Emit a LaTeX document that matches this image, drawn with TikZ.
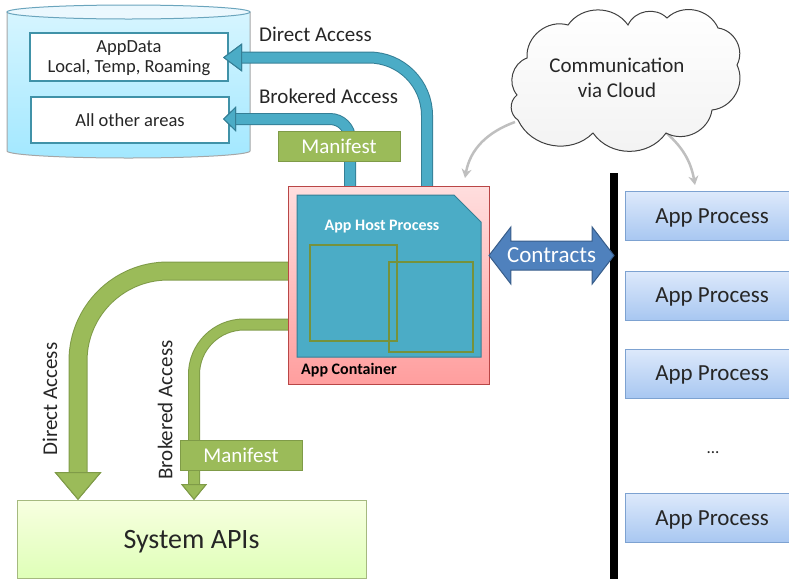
\documentclass[tikz,border=0pt]{standalone}
\usepackage{fontspec}
\setmainfont{Carlito}
\usetikzlibrary{positioning,arrows.meta,shapes.arrows}
\definecolor{tealpipe}{HTML}{4BACC6}
\definecolor{tealline}{HTML}{357F96}
\definecolor{greenpipe}{HTML}{9BBB59}
\definecolor{greenline}{HTML}{7F9B48}
\definecolor{olivebox}{HTML}{76923C}
\definecolor{inktext}{HTML}{262626}
\definecolor{proctop}{HTML}{DDE9FB}
\definecolor{procbottom}{HTML}{A8C7F1}
\definecolor{procline}{HTML}{7DA2D1}
\definecolor{contractfill}{HTML}{4F81BD}
\definecolor{contractline}{HTML}{385D8A}
\definecolor{storetop}{HTML}{D6F5FF}
\definecolor{storebottom}{HTML}{A3E8FF}
\begin{document}
\begin{tikzpicture}[x=1pt,y=-1pt,
    every node/.style={text=inktext,inner sep=0pt,outer sep=0pt,align=center,text depth=0pt},
    areabox/.style={rectangle,draw=tealpipe!85!black,line width=1.6pt,fill=white,minimum width=198pt,font=\fontsize{18.5}{20}\selectfont},
    manifestbox/.style={rectangle,draw=greenline,line width=1pt,fill=greenpipe,minimum width=122pt,minimum height=30pt,text=white,font=\fontsize{21}{24}\selectfont},
    procbox/.style={rectangle,draw=procline,line width=1pt,top color=proctop,bottom color=procbottom,minimum width=174pt,minimum height=49pt,font=\fontsize{23}{25}\selectfont},
    smallbox/.style={rectangle,draw=olivebox,line width=1.5pt,minimum width=#1},
    flowlabel/.style={font=\fontsize{21}{24}\selectfont},
    boldlabel/.style={font=\fontsize{16}{18}\selectfont\bfseries},
    tealflow/.style={line width=10pt,draw=tealpipe,preaction={draw=tealline,line width=12pt}},
    greenflow/.style={line width=#1,draw=greenpipe,preaction={draw=greenline,line width=#1+2pt}},
    cloudlink/.style={draw=gray!50,line width=2.5pt,-{Stealth[length=9pt,width=10pt]}},
    puff/.style={bend left=55,looseness=1.05}
    ]
\useasboundingbox (0,0) rectangle (789,579);

\draw[top color=storetop,bottom color=storebottom,draw=gray!70,line width=1pt]
    (7,12) -- (7,151) arc[start angle=180,end angle=0,x radius=121.5,y radius=7] -- (250,12) -- cycle;
\draw[fill=cyan!8!white,draw=cyan!45!gray,line width=1pt] (128.5,12) ellipse[x radius=121.5,y radius=7];
\node[areabox,minimum height=48pt] (appdata) at (129,57) {AppData\\Local, Temp, Roaming};
\node[areabox,minimum height=46pt] (otherareas) at (130,120) {All other areas};

\coordinate (directtop) at (427,186);
\coordinate (brokeredtop) at (350,186);
\coordinate (directleft) at (289,271);
\coordinate (brokeredleft) at (289,324.5);
\coordinate (directtip) at (223,57.5);
\coordinate (brokeredtip) at (223,119);
\coordinate (directapi) at (78,500);
\coordinate (brokeredapi) at (194,500);
\coordinate (cloudleft) at (515,122);
\coordinate (cloudright) at (663,130);
\coordinate (containerpoint) at (465,178);
\coordinate (processpoint) at (695,185);
\coordinate (bartop) at (614,173);
\coordinate (barbottom) at (614,579);

\draw[tealflow,rounded corners=58pt,-{Triangle[length=19pt,width=28pt,fill=tealpipe,color=tealline,line width=1pt]}]
    (directtop) |- (directtip);
\draw[tealflow,rounded corners=20pt,-{Triangle[length=13pt,width=25pt,fill=tealpipe,color=tealline,line width=1pt]}]
    (brokeredtop) |- (brokeredtip);
\draw[greenflow=17pt,rounded corners=90pt,-{Triangle[length=28pt,width=47pt,fill=greenpipe,color=greenline,line width=1pt]}]
    (directleft) -| (directapi);
\draw[greenflow=10pt,rounded corners=50pt,-{Triangle[length=16pt,width=26pt,fill=greenpipe,color=greenline,line width=1pt]}]
    (brokeredleft) -| (brokeredapi);

\node[manifestbox] (manifesttop) at (339,146) {Manifest};
\node[manifestbox] (manifestbottom) at (241,455.5) {Manifest};

\node[flowlabel] (directlabel) at (315.5,34) {Direct Access};
\node[flowlabel] (brokeredlabel) at (328.5,96) {Brokered Access};
\node[flowlabel,rotate=90] (directside) at (50,399) {Direct Access};
\node[flowlabel,rotate=90] (brokeredside) at (165,410) {Brokered Access};

\node[rectangle,draw=red!45!gray,line width=1pt,top color=red!13!white,bottom color=red!38!white,minimum width=201pt,minimum height=198pt] (container) at (389,285) {};
\draw[fill=tealpipe,draw=tealline,line width=1pt] (297,195) -- (454,195) -- (481,222) -- (481,357) -- (297,357) -- cycle;
\node[boldlabel,text=white] (hostlabel) at (382,225) {App Host Process};
\node[boldlabel,text=black] (containerlabel) at (349,369) {App Container};
\node[smallbox=87pt,minimum height=96pt] (frameA) at (353.5,293) {};
\node[smallbox=84pt,minimum height=90pt] (frameB) at (431,307) {};

\draw[line width=7.5pt,draw=black] (bartop) -- (barbottom);
\node[double arrow,double arrow head extend=14pt,double arrow tip angle=105,minimum height=125pt,draw=contractline,line width=1pt,fill=contractfill,text=white,text height=16pt,text depth=2pt,inner ysep=5pt,font=\fontsize{23}{24}\selectfont] (contracts) at (551.5,255.5) {Contracts};

\node[procbox] (procA) at (712,216) {App Process};
\node[procbox] (procB) at (712,295.5) {App Process};
\node[procbox] (procC) at (712,373.5) {App Process};
\node[font=\fontsize{17}{20}\selectfont] (procdots) at (713,453) {...};
\node[procbox] (procD) at (712,518) {App Process};

\node[rectangle,draw=greenline!70,line width=1pt,top color=green!25!yellow!12!white,bottom color=green!45!yellow!28!white,minimum width=349pt,minimum height=78pt,font=\fontsize{28}{30}\selectfont] (systemapis) at (191.5,539) {System APIs};

\draw[cloudlink] (cloudleft) to[out=200,in=80] (containerpoint);
\draw[cloudlink] (cloudright) to[out=-40,in=100] (processpoint);

\draw[draw=black!75,line width=1pt,top color=white,bottom color=gray!10]
    (527,58) to[puff] (568,25) to[puff] (628,25) to[puff] (667,18) to[puff] (718,28)
    to[puff] (737,65) to[puff] (712,110) to[puff] (666,133) to[puff] (593,133)
    to[puff] (518,120) to[puff] (517,95) to[puff] cycle;
\node[font=\fontsize{21}{25}\selectfont] (cloudtext) at (617,78) {Communication\\via Cloud};
\end{tikzpicture}
\end{document}
